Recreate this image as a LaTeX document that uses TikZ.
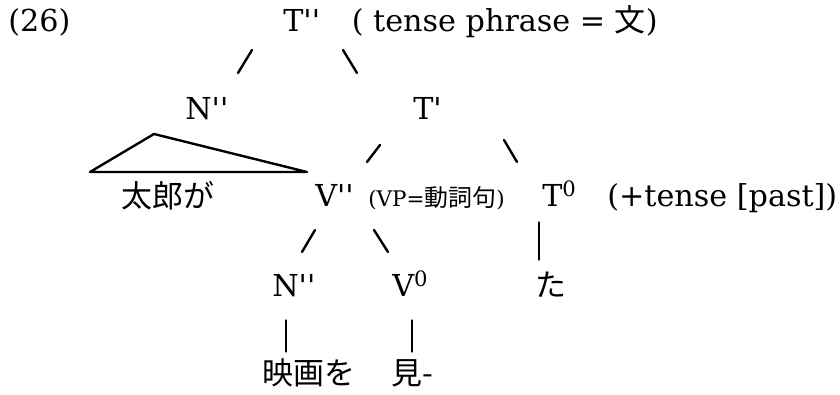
\documentclass[tikz,border=0pt]{standalone}
\usepackage{fontspec}
\setmainfont{DejaVu Serif}[Ligatures=TeXOff]
\newfontfamily\jpfont{Noto Sans CJK JP}
\usepackage{tikz}
\usetikzlibrary{positioning}
\newcommand{\mainsize}{\fontsize{21.5}{25}\selectfont}
\newcommand{\jpsize}{\fontsize{22}{26}\selectfont\jpfont}
\newcommand{\smallsize}{\fontsize{15.3}{18}\selectfont}
\newcommand{\smalljp}{\fontsize{17}{20}\selectfont\jpfont}

\begin{document}
\begin{tikzpicture}[line cap=round, line join=round,
    lbl/.style={anchor=base west, inner sep=0pt, font=\mainsize},
    jplbl/.style={anchor=base west, inner sep=0pt, font=\jpsize},
    branch/.style={line width=1.7pt},
    bar/.style={line width=0.9pt}]
    \useasboundingbox (0,0) rectangle (21,9.875);
    % top line
    \node[lbl] (ex) at (0.2,9.075) {(26)};
    \node[lbl] (head) at (7.075,9.075) {T''\hspace{1.05em}( tense phrase = {\jpsize 文})};
    \coordinate (s1a) at (5.95,8.05);   \coordinate (s1b) at (6.30,8.625);
    \coordinate (s2a) at (8.575,8.625); \coordinate (s2b) at (8.925,8.05);
    \draw[branch] (s1a) -- (s1b);
    \draw[branch] (s2a) -- (s2b);
    % N'' and T'
    \node[lbl] (npp1) at (4.625,6.875) {N''};
    \node[lbl] (tbar) at (10.325,6.875) {T'};
    \coordinate (tri1) at (3.85,6.525);
    \coordinate (tri2) at (2.25,5.575);
    \coordinate (tri3) at (7.675,5.575);
    \draw[branch] (tri1) -- (tri2) -- (tri3) -- cycle;
    \coordinate (s3a) at (9.175,5.825); \coordinate (s3b) at (9.5,6.25);
    \coordinate (s4a) at (12.6,6.375);  \coordinate (s4b) at (12.925,5.825);
    \draw[branch] (s3a) -- (s3b);
    \draw[branch] (s4a) -- (s4b);
    % third row
    \node[jplbl] (taro) at (3.025,4.675) {太郎が};
    \node[lbl] (vpp) at (7.875,4.7) {V''};
    \node[lbl, font=\smallsize] (vplabel) at (9.2,4.7) {(VP={\smalljp 動詞句})};
    \node[lbl] (tzero) at (13.55,4.7) {T\textsuperscript{0}};
    \node[lbl] (tense) at (15.175,4.7) {(+tense [past])};
    \coordinate (s5a) at (7.55,3.575);  \coordinate (s5b) at (7.875,4.125);
    \coordinate (s6a) at (9.35,4.125);  \coordinate (s6b) at (9.7,3.575);
    \draw[branch] (s5a) -- (s5b);
    \draw[branch] (s6a) -- (s6b);
    \coordinate (b1a) at (13.475,4.325); \coordinate (b1b) at (13.475,3.375);
    \draw[bar] (b1a) -- (b1b);
    % fourth row
    \node[lbl] (npp2) at (6.8,2.45) {N''};
    \node[lbl] (vzero) at (9.8,2.45) {V\textsuperscript{0}};
    \node[jplbl] (ta) at (13.375,2.45) {た};
    \coordinate (b2a) at (7.15,1.875); \coordinate (b2b) at (7.15,1.075);
    \coordinate (b3a) at (10.3,1.875); \coordinate (b3b) at (10.3,1.075);
    \draw[bar] (b2a) -- (b2b);
    \draw[bar] (b3a) -- (b3b);
    % words
    \node[jplbl] (eiga) at (6.55,0.25) {映画を};
    \node[jplbl] (mi) at (9.775,0.25) {見-};
\end{tikzpicture}
\end{document}
